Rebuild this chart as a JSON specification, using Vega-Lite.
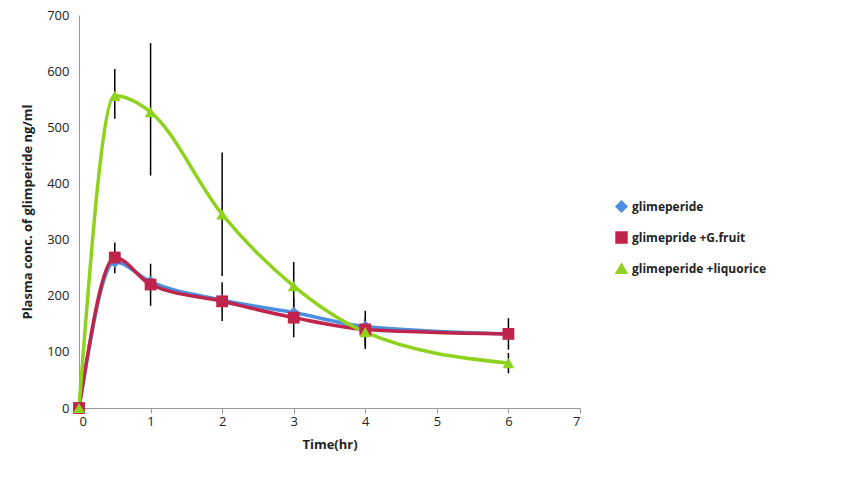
{
  "$schema": "https://vega.github.io/schema/vega-lite/v6.json",
  "width": 501,
  "height": 393,
  "autosize": "none",
  "padding": {"left": 79, "top": 15, "right": 267, "bottom": 69},
  "background": "white",
  "config": {"view": {"stroke": null}, "font": "Open Sans"},
  "data": {
    "values": [
      {"series": "glimeperide", "t": 0, "v": 0},
      {"series": "glimeperide", "t": 0.5, "v": 260},
      {"series": "glimeperide", "t": 1, "v": 225},
      {"series": "glimeperide", "t": 2, "v": 192},
      {"series": "glimeperide", "t": 3, "v": 170},
      {"series": "glimeperide", "t": 4, "v": 145},
      {"series": "glimeperide", "t": 6, "v": 132},
      {"series": "glimepride +G.fruit", "t": 0, "v": 0},
      {"series": "glimepride +G.fruit", "t": 0.5, "v": 268, "lo": 240, "hi": 295},
      {"series": "glimepride +G.fruit", "t": 1, "v": 220, "lo": 182, "hi": 257},
      {"series": "glimepride +G.fruit", "t": 2, "v": 190, "lo": 155, "hi": 224},
      {"series": "glimepride +G.fruit", "t": 3, "v": 161, "lo": 126, "hi": 196},
      {"series": "glimepride +G.fruit", "t": 4, "v": 140, "lo": 105, "hi": 173},
      {"series": "glimepride +G.fruit", "t": 6, "v": 132, "lo": 104, "hi": 160},
      {"series": "glimeperide +liquorice", "t": 0, "v": 0},
      {"series": "glimeperide +liquorice", "t": 0.5, "v": 556, "lo": 515, "hi": 604},
      {"series": "glimeperide +liquorice", "t": 1, "v": 527, "lo": 414, "hi": 650},
      {"series": "glimeperide +liquorice", "t": 2, "v": 345, "lo": 235, "hi": 455},
      {"series": "glimeperide +liquorice", "t": 3, "v": 217, "lo": 176, "hi": 260},
      {"series": "glimeperide +liquorice", "t": 4, "v": 135, "lo": 110, "hi": 160},
      {"series": "glimeperide +liquorice", "t": 6, "v": 80, "lo": 62, "hi": 98}
    ]
  },
  "encoding": {
    "x": {
      "field": "t", "type": "quantitative", "title": "Time(hr)",
      "scale": {"domain": [0, 7], "nice": false},
      "axis": {"tickCount": 7, "grid": false, "domainColor": "#999", "tickColor": "#999", "labelFontSize": 13, "labelColor": "#222", "titleFontSize": 13, "titleFontWeight": "bold", "titleColor": "#222", "titlePadding": 10}
    },
    "y": {
      "field": "v", "type": "quantitative", "title": "Plasma conc. of glimperide ng/ml",
      "scale": {"domain": [0, 700], "nice": false},
      "axis": {"tickCount": 7, "grid": false, "ticks": false, "labelPadding": 10, "domainColor": "#999", "labelFontSize": 13, "labelColor": "#222", "titleFontSize": 13, "titleFontWeight": "bold", "titleColor": "#222", "titlePadding": 12}
    },
    "color": {"field": "series", "type": "nominal",
      "scale": {"domain": ["glimeperide", "glimepride +G.fruit", "glimeperide +liquorice"], "range": ["#4a8fe0", "#c0244a", "#8fd21e"]},
      "legend": {"title": null, "orient": "none", "legendX": 536, "legendY": 185, "labelFontSize": 12, "labelFontWeight": "bold", "labelColor": "#222", "rowPadding": 14, "symbolSize": 120}}
  },
  "layer": [
    {
      "mark": {"type": "rule", "color": "black", "strokeWidth": 1.5},
      "transform": [{"filter": "isValid(datum.lo)"}],
      "encoding": {"y": {"field": "lo", "type": "quantitative"}, "y2": {"field": "hi"}, "color": {"value": "black"}}
    },
    {
      "mark": {"type": "line", "interpolate": "monotone", "strokeWidth": 3.5}
    },
    {
      "mark": {"type": "point", "filled": true, "size": 140, "opacity": 1},
      "encoding": {
        "shape": {"field": "series", "type": "nominal",
          "scale": {"domain": ["glimeperide", "glimepride +G.fruit", "glimeperide +liquorice"], "range": ["diamond", "square", "triangle-up"]}}
      }
    }
  ]
}
